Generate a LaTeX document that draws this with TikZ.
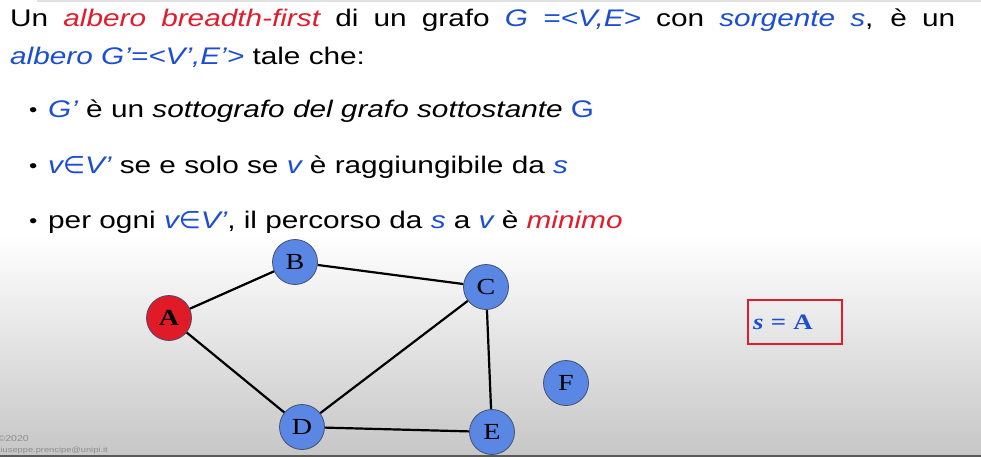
\documentclass[tikz,border=0pt]{standalone}
\usepackage{fontspec}
\usepackage[svgnames]{xcolor}
\usepackage{tikz}
\usetikzlibrary{positioning,backgrounds}
\setmainfont{Liberation Sans}[FakeStretch=1.24]
\newfontfamily\labelfont{Liberation Serif}[FakeStretch=1.22]
\newfontfamily\symbfont{DejaVu Sans}[FakeStretch=1.05]
\definecolor{testorosso}{RGB}{226,28,44}
\definecolor{testoblu}{RGB}{28,78,212}
\definecolor{nodoblu}{RGB}{90,134,228}
\definecolor{nodorosso}{RGB}{224,26,38}
\definecolor{bordonodo}{RGB}{70,80,110}
\definecolor{fondo}{RGB}{198,198,198}
\newcommand{\blu}[1]{\textcolor{testoblu}{\itshape #1}}
\newcommand{\rosso}[1]{\textcolor{testorosso}{\itshape #1}}
\newcommand{\app}{{\symbfont\char"2208}}
\newcommand{\punto}{\makebox[19pt][l]{\raisebox{1pt}{\fontsize{19}{19}\selectfont\textbullet}}}

\begin{document}
\begin{tikzpicture}[x=1pt,y=-1pt,
	vertex/.style={circle,draw=bordonodo,line width=.8pt,fill=nodoblu,minimum size=45pt,inner sep=0pt,font=\labelfont\fontsize{23}{23}\selectfont},
	arco/.style={line width=2.2pt,black},
	riga/.style={anchor=base west,inner sep=0pt,font=\fontsize{24}{24}\selectfont}]
		\path[use as bounding box,clip] (0,0) rectangle (981,457);
		\fill[white] (0,0) rectangle (981,457);
		\shade[top color=white,bottom color=fondo] (0,235) rectangle (981,457);
		\draw[line width=1.5pt,black!12] (37,1) -- (981,1);
		\draw[line width=2pt,black!65] (0,456) -- (981,456);
		\node[riga] (riga1) at (10,27) {\makebox[945pt][s]{Un \rosso{albero breadth-first} di un grafo \blu{G =<V,E>} con \blu{sorgente s}, è un}};
		\node[riga] (riga2) at (10,65) {\blu{albero G’=<V’,E’>} tale che:};
		\node[riga] (punto1) at (29,118) {\punto\blu{G’} è un \textit{sottografo del grafo sottostante} \textcolor{testoblu}{G}};
		\node[riga] (punto2) at (29,173) {\punto\blu{v\app V’} se e solo se \blu{v} è raggiungibile da \blu{s}};
		\node[riga] (punto3) at (29,228) {\punto per ogni \blu{v\app V’}, il percorso da \blu{s} a \blu{v} è \rosso{minimo}};
		\node[vertex,fill=nodorosso,font=\labelfont\bfseries\fontsize{23}{23}\selectfont] (A) at (169,318) {A};
		\node[vertex] (B) at (295,262) {B};
		\node[vertex] (C) at (486,287) {C};
		\node[vertex] (D) at (302,427) {D};
		\node[vertex] (E) at (492,432) {\raisebox{-4pt}{E}};
		\node[vertex] (F) at (566,383) {F};
		\draw[arco] (A) -- (B);
		\draw[arco] (A) -- (D);
		\draw[arco] (B) -- (C);
		\draw[arco] (C) -- (D);
		\draw[arco] (C) -- (E);
		\draw[arco] (D) -- (E);
		\node[draw=testorosso,line width=1.2pt,text width=84pt,minimum height=44pt,inner sep=5pt,align=left,text=testoblu,font=\labelfont\bfseries\fontsize{22}{22}\selectfont] (sorg) at (795,322) {\textit{s} = A};
		\node[anchor=base east,inner sep=0pt,text=black!45,font=\fontsize{8.5}{9}\selectfont] (anno) at (29,441) {©2020};
		\node[anchor=base east,inner sep=0pt,text=black!45,font=\fontsize{7.5}{9}\selectfont] (mail) at (108,452) {giuseppe.prencipe@unipi.it};
	\end{tikzpicture}
\end{document}
